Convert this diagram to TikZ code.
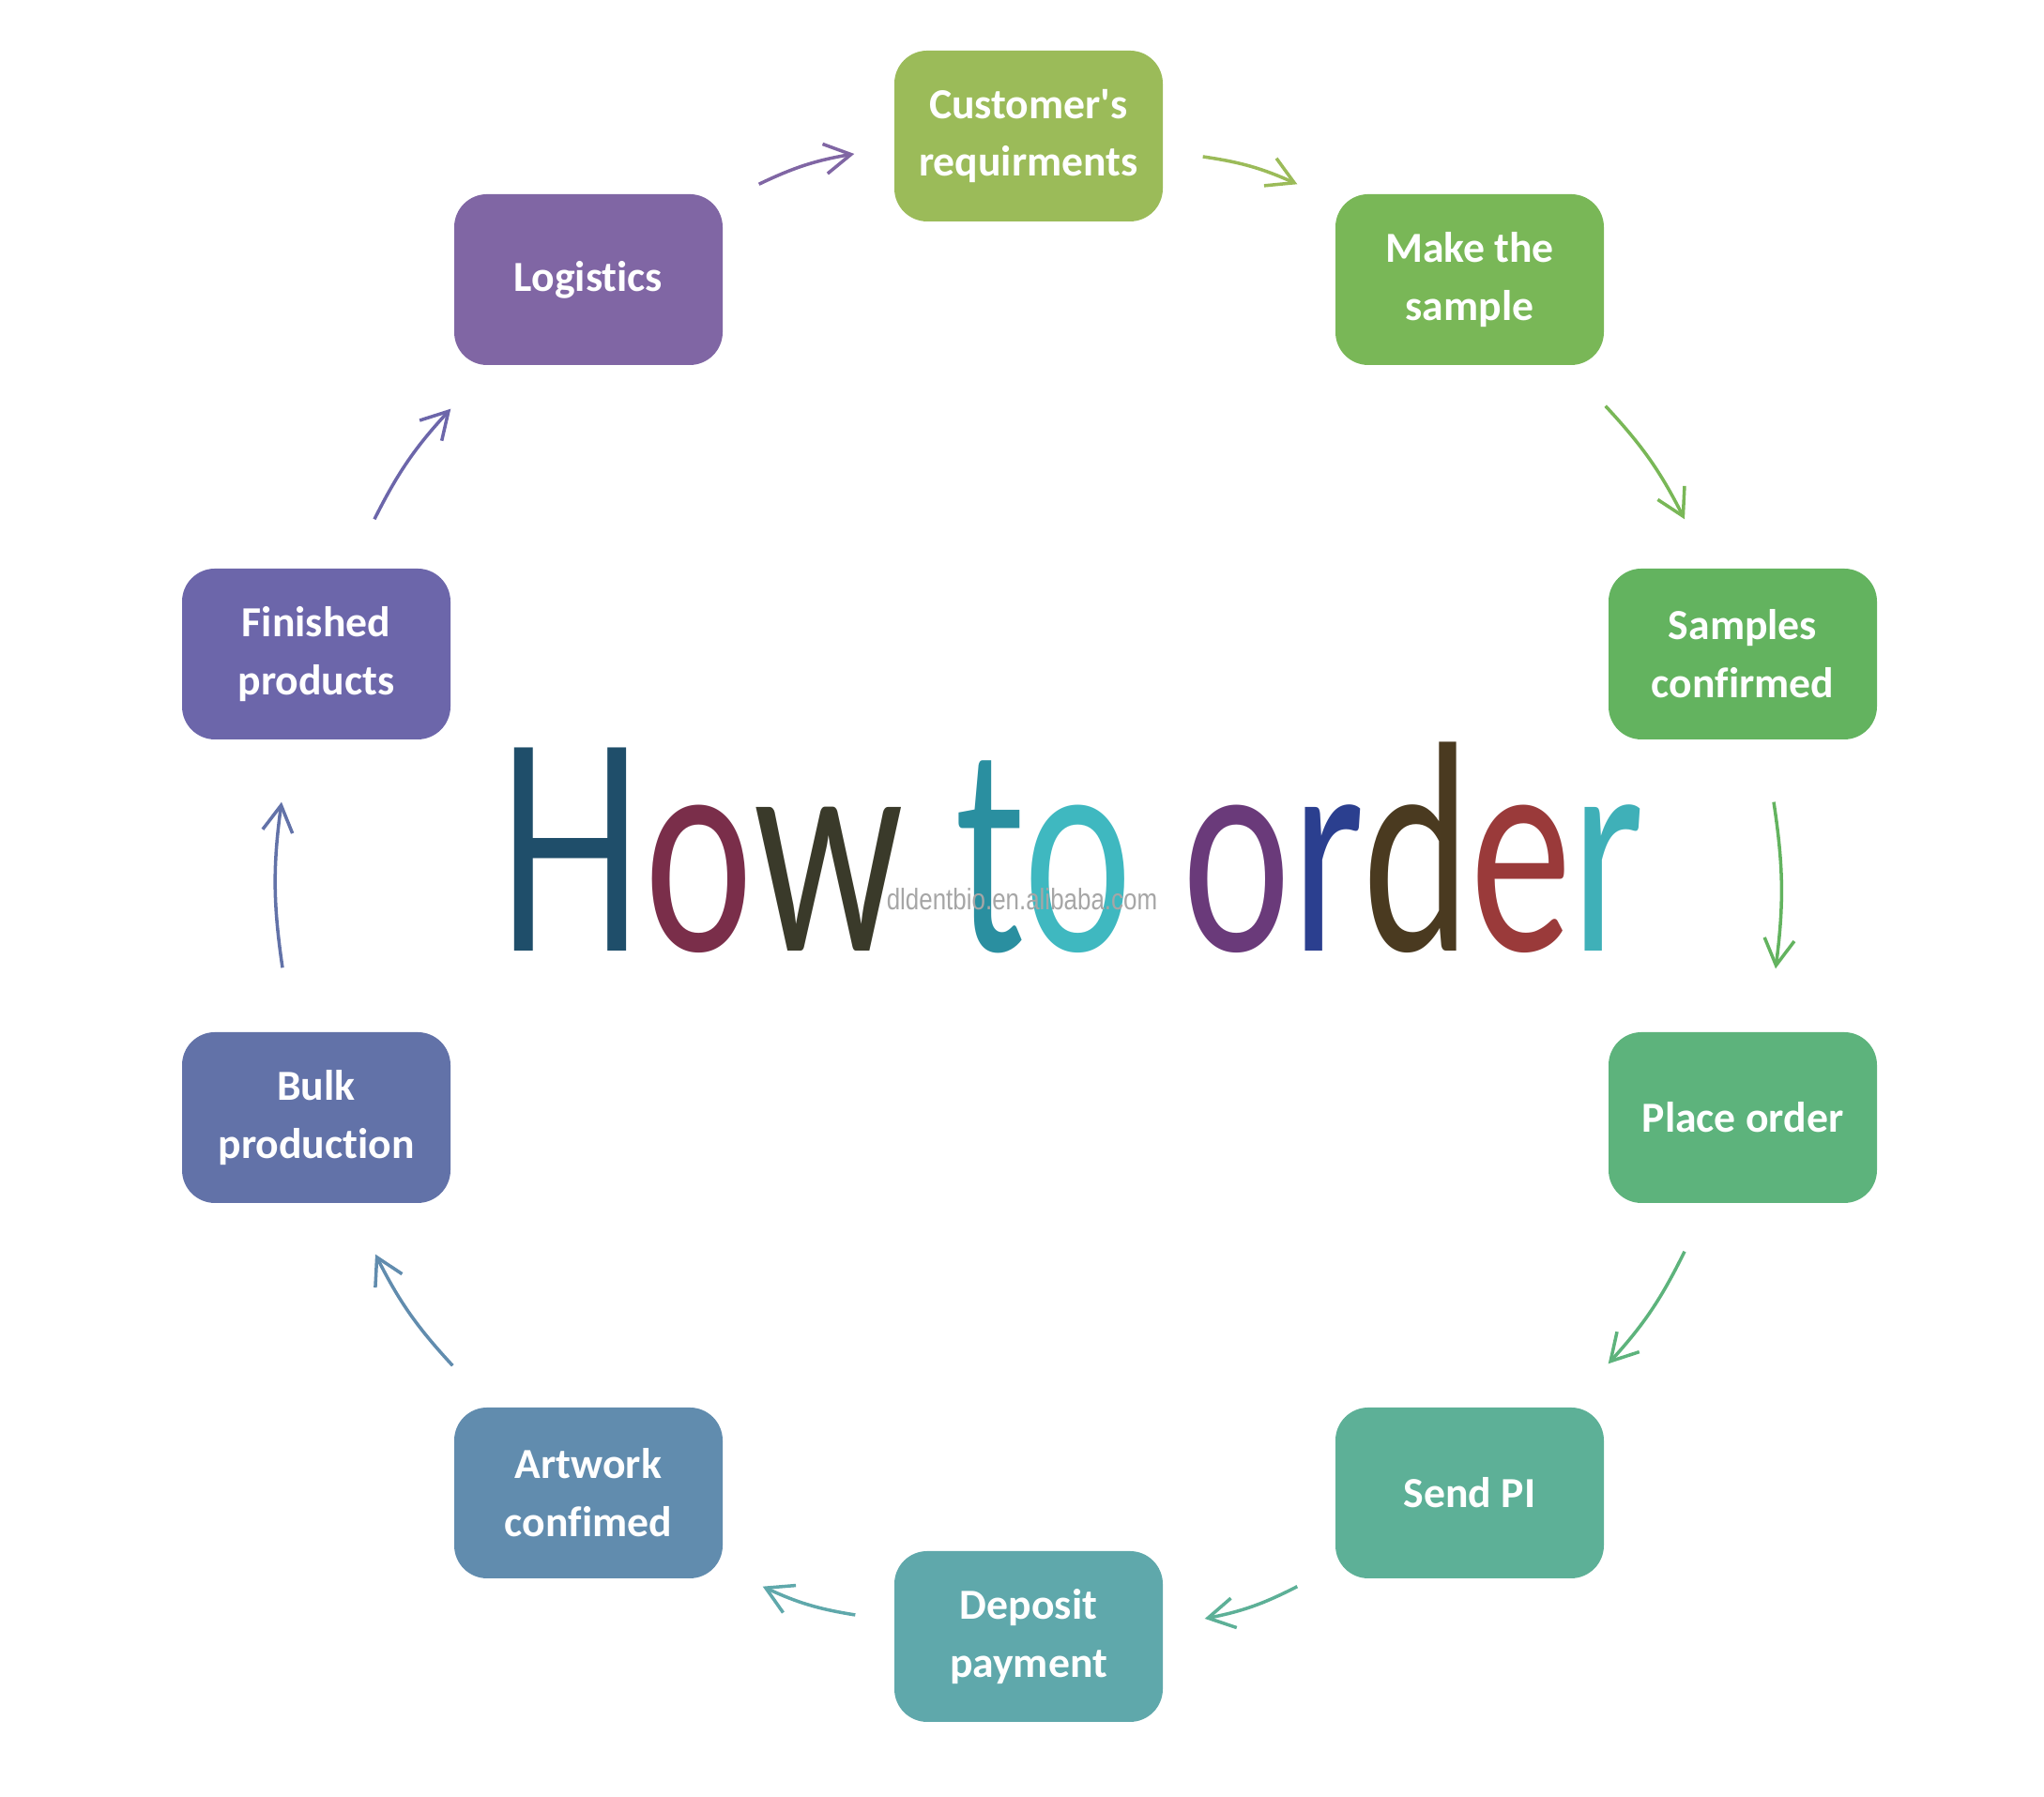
\documentclass[tikz,border=0pt]{standalone}
\usepackage{fontspec}
\setmainfont[Ligatures=NoCommon]{Carlito}
\newfontfamily\titlefont{Lato}
\newfontfamily\markfont{Liberation Sans}
\usetikzlibrary{arrows.meta}

\definecolor{cCust}{HTML}{9BBB59}
\definecolor{cMake}{HTML}{79B757}
\definecolor{cSamp}{HTML}{63B35F}
\definecolor{cPlace}{HTML}{5DB37C}
\definecolor{cSend}{HTML}{5DB097}
\definecolor{cDepo}{HTML}{5FA8AB}
\definecolor{cArt}{HTML}{618CAE}
\definecolor{cBulk}{HTML}{6272A8}
\definecolor{cFin}{HTML}{6C66AA}
\definecolor{cLogi}{HTML}{8066A4}

% letter colours of the title
\definecolor{tA}{HTML}{1F4E6A}
\definecolor{tB}{HTML}{7A2E4A}
\definecolor{tC}{HTML}{3A3A2A}
\definecolor{tD}{HTML}{2A8FA0}
\definecolor{tE}{HTML}{3FB8C0}
\definecolor{tF}{HTML}{6A3A7A}
\definecolor{tG}{HTML}{2B3F8F}
\definecolor{tH}{HTML}{4A3A20}
\definecolor{tI}{HTML}{9A3A3A}
\definecolor{tJ}{HTML}{3FB0B8}

\begin{document}
\begin{tikzpicture}[
    stepbox/.style={rounded corners=0.35cm, minimum width=2.86cm, minimum height=1.82cm,
                    inner sep=0pt, align=center, text=white,
                    font=\bfseries\fontsize{13}{17.6}\selectfont},
    arr/.style={-{Straight Barb[length=0.28cm,width=0.32cm]}, line width=1pt, bend left=8}]
    \useasboundingbox (0,0) rectangle (21.78,19.15);

    % The steps, clockwise from the top
    \node (cust)   at (10.96,17.70) [stepbox, fill=cCust]  {Customer\textquotesingle s\\requirments};
    \node (make)   at (15.66,16.17) [stepbox, fill=cMake]  {Make the\\sample};
    \node (samp)   at (18.57,12.18) [stepbox, fill=cSamp]  {Samples\\confirmed};
    \node (place)  at (18.57,7.24)  [stepbox, fill=cPlace] {Place order};
    \node (sendpi) at (15.66,3.24)  [stepbox, fill=cSend]  {Send PI};
    \node (depo)   at (10.96,1.71)  [stepbox, fill=cDepo]  {Deposit\\payment};
    \node (art)    at (6.27,3.24)   [stepbox, fill=cArt]   {Artwork\\confimed};
    \node (bulk)   at (3.37,7.24)   [stepbox, fill=cBulk]  {Bulk\\production};
    \node (fin)    at (3.37,12.18)  [stepbox, fill=cFin]   {Finished\\products};
    \node (logi)   at (6.27,16.17)  [stepbox, fill=cLogi]  {Logistics};

    % The arrows between the steps
    \draw[arr, cLogi]  ([shift={(0.38,0.10)}]logi.north east) to ([shift={(-0.42,-0.19)}]cust.west);
    \draw[arr, cCust]  ([shift={(0.42,-0.22)}]cust.east) to ([shift={(-0.40,0.10)}]make.north west);
    \draw[arr, cMake]  ([shift={(0.01,-0.43)}]make.south east) to ([shift={(-0.62,0.52)}]samp.north);
    \draw[arr, cSamp]  ([shift={(0.33,-0.66)}]samp.south) to ([shift={(0.35,0.67)}]place.north);
    \draw[arr, cPlace] ([shift={(-0.62,-0.51)}]place.south) to ([shift={(0.04,0.46)}]sendpi.north east);
    \draw[arr, cSend]  ([shift={(-0.40,-0.08)}]sendpi.south west) to ([shift={(0.44,0.19)}]depo.east);
    \draw[arr, cDepo]  ([shift={(-0.41,0.23)}]depo.west) to ([shift={(0.42,-0.08)}]art.south east);
    \draw[arr, cArt]   ([shift={(-0.01,0.44)}]art.north west) to ([shift={(0.63,-0.54)}]bulk.south);
    \draw[arr, cBulk]  ([shift={(-0.36,0.68)}]bulk.north) to ([shift={(-0.37,-0.66)}]fin.south);
    \draw[arr, cFin]   ([shift={(0.62,0.52)}]fin.north) to ([shift={(-0.03,-0.46)}]logi.south west);

    % The title in the middle
    \node (title) at (5.29,9.01) [anchor=base west, inner sep=0pt, xscale=0.68,
        font=\titlefont\fontsize{86}{86}\selectfont]
        {\textcolor{tA}{H}\textcolor{tB}{o}\textcolor{tC}{w} \textcolor{tD}{t}\textcolor{tE}{o}
         \textcolor{tF}{o}\textcolor{tG}{r}\textcolor{tH}{d}\textcolor{tI}{e}\textcolor{tJ}{r}};
    \node (mark) at (10.89,9.57) [text=gray!70, inner sep=0pt, xscale=0.82,
        font=\markfont\fontsize{9}{9}\selectfont] {dldentbio.en.alibaba.com};
\end{tikzpicture}
\end{document}
